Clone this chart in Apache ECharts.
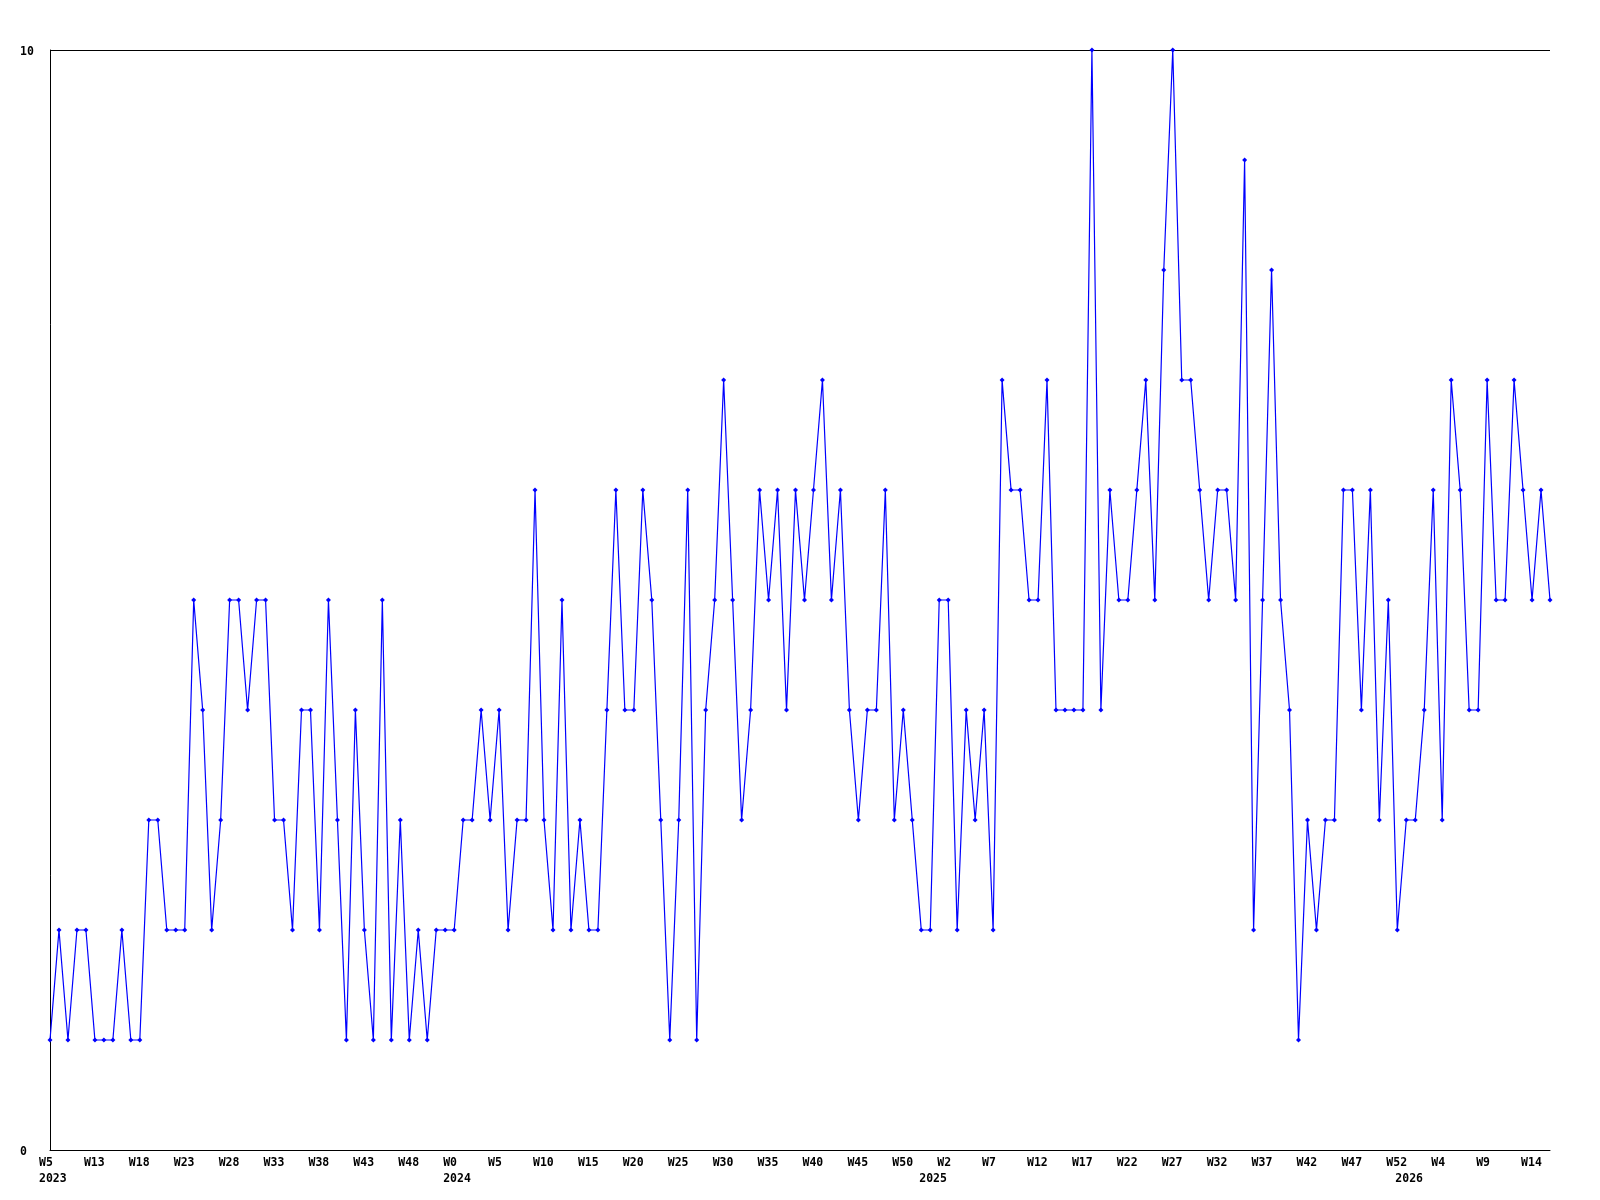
<!DOCTYPE html>
<html>
<head>
<meta charset="utf-8">
<title>Weekly chart</title>
<script src="https://cdn.jsdelivr.net/npm/echarts@6/dist/echarts.min.js"></script>
<style>
  html, body { margin: 0; padding: 0; background: #fff; }
  #chart { width: 1600px; height: 1200px; }
</style>
</head>
<body>
<div id="chart"></div>
<script>
// one value per week, 168 points
var values = [
    1, 2, 1, 2, 2, 1, 1, 1, 2, 1, 1, 3, 3, 2, 2, 2, 5, 4, 2, 3, 5, 5,
    4, 5, 5, 3, 3, 2, 4, 4, 2, 5, 3, 1, 4, 2, 1, 5, 1, 3, 1, 2, 1, 2,
    2, 2, 3, 3, 4, 3, 4, 2, 3, 3, 6, 3, 2, 5, 2, 3, 2, 2, 4, 6, 4,
    4, 6, 5, 3, 1, 3, 6, 1, 4, 5, 7, 5, 3, 4, 6, 5, 6, 4, 6, 5, 6,
    7, 5, 6, 4, 3, 4, 4, 6, 3, 4, 3, 2, 2, 5, 5, 2, 4, 3, 4, 2, 7,
    6, 6, 5, 5, 7, 4, 4, 4, 4, 10, 4, 6, 5, 5, 6, 7, 5, 8, 10, 7, 7,
    6, 5, 6, 6, 5, 9, 2, 5, 8, 5, 4, 1, 3, 2, 3, 3, 6, 6, 4, 6, 3,
    5, 2, 3, 3, 4, 6, 3, 7, 6, 4, 4, 7, 5, 5, 7, 6, 5, 6, 5
];

// week labels, one every 5 points
var weekLabels = [
    'W5', 'W13', 'W18', 'W23', 'W28', 'W33', 'W38', 'W43', 'W48',
    'W0', 'W5', 'W10', 'W15', 'W20', 'W25', 'W30', 'W35', 'W40', 'W45', 'W50',
    'W2', 'W7', 'W12', 'W17', 'W22', 'W27', 'W32', 'W37', 'W42', 'W47', 'W52',
    'W4', 'W9', 'W14'
];

// year label and the point index where the year starts
var yearNames = ['2023', '2024', '2025', '2026'];
var yearStarts = [0, 45, 98, 151];

var categories = values.map(function (v, i) { return String(i); });

function yearAt(i) {
    var k = yearStarts.indexOf(i);
    return k >= 0 ? yearNames[k] : null;
}

var labelFont = {
    fontFamily: 'DejaVu Sans Mono',
    fontWeight: 'bold',
    fontSize: 11.5,
    color: '#000'
};

var myChart = echarts.init(document.getElementById('chart'), null, { renderer: 'canvas' });

var option = {
    backgroundColor: '#fff',
    animation: false,
    grid: { left: 50, right: 50, top: 50, bottom: 50, containLabel: false },
    xAxis: {
        type: 'category',
        data: categories,
        boundaryGap: false,
        axisLine: { show: true, lineStyle: { color: '#000', width: 1 } },
        axisTick: { show: false },
        splitLine: { show: false },
        axisLabel: Object.assign({}, labelFont, {
            interval: function (i) { return i % 5 === 0 || yearAt(i) !== null; },
            formatter: function (v, i) {
                var w = i % 5 === 0 ? weekLabels[i / 5] : '';
                var y = yearAt(i);
                return y ? w + '\n' + y : w;
            },
            align: 'left',
            verticalAlign: 'top',
            padding: [0, 0, 0, -11],
            lineHeight: 16,
            margin: 5,
            showMinLabel: true,
            showMaxLabel: true
        })
    },
    yAxis: {
        type: 'value',
        min: 0,
        max: 10,
        interval: 10,
        axisLine: { show: true, lineStyle: { color: '#000', width: 1 } },
        axisTick: { show: false },
        splitLine: { show: true, lineStyle: { color: '#000', width: 1 } },
        axisLabel: Object.assign({}, labelFont, {
            align: 'left',
            verticalAlign: 'top',
            padding: [-4, 0, 0, 0],
            margin: 30
        })
    },
    series: [
        {
            type: 'line',
            data: values,
            symbol: 'diamond',
            symbolSize: 5,
            showAllSymbol: true,
            lineStyle: { color: '#0000ff', width: 1.2 },
            itemStyle: { color: '#0000ff' },
            silent: true
        }
    ]
};
myChart.setOption(option);
</script>
</body>
</html>
